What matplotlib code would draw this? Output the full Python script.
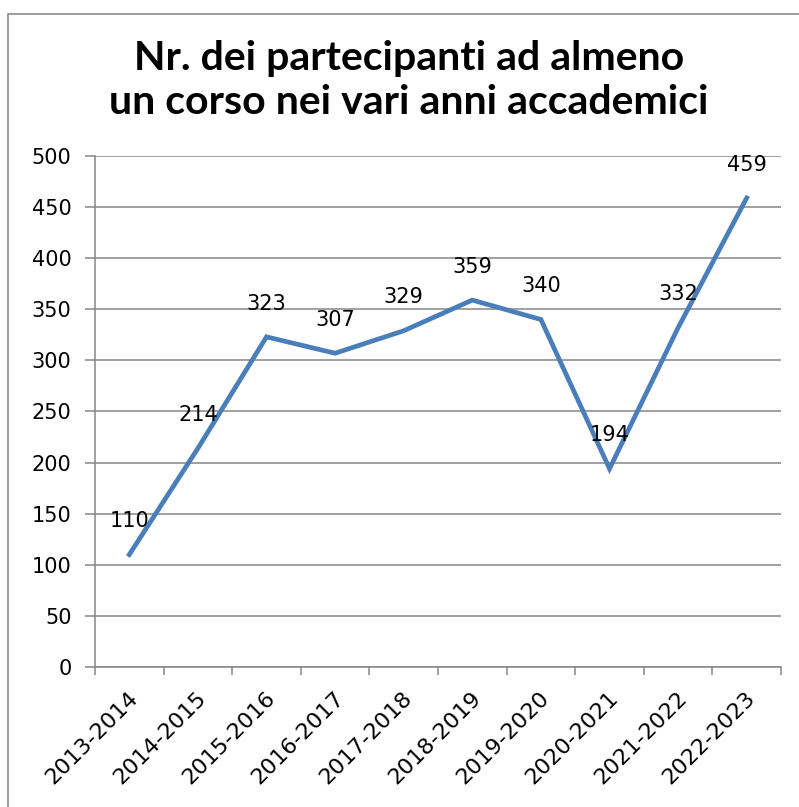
import numpy as np
import matplotlib
matplotlib.use("Agg")
import matplotlib.pyplot as plt
from matplotlib.patches import Rectangle
from matplotlib.transforms import ScaledTranslation

anni = ["2013-2014", "2014-2015", "2015-2016", "2016-2017", "2017-2018",
        "2018-2019", "2019-2020", "2020-2021", "2021-2022", "2022-2023"]
partecipanti = [110, 214, 323, 307, 329, 359, 340, 194, 332, 459]
titolo = "Nr. dei partecipanti ad almeno\nun corso nei vari anni accademici"

grigio = "#868686"
blu = "#4A7EBB"

fig = plt.figure(figsize=(7.99, 8.07), dpi=100)
ax = fig.add_axes([0.1189, 0.1735, 0.9775 - 0.1189, 0.8067 - 0.1735])

x = np.arange(len(anni)) + 0.5
ax.plot(x, partecipanti, color=blu, lw=3.4, solid_joinstyle="miter", zorder=3)
for xi, v in zip(x, partecipanti):
    ax.annotate(str(v), (xi, v), xytext=(0, 24), textcoords="offset points",
                ha="center", va="center", fontsize=15, color="black", zorder=4)

ax.set_xlim(0, len(anni))
ax.set_ylim(0, 500)
ax.set_yticks(np.arange(0, 501, 50))
ax.yaxis.grid(True, color=grigio, lw=1.1)
ax.set_axisbelow(True)

ax.set_xticks(np.arange(len(anni) + 1))
ax.set_xticklabels([])
ax.set_xticks(x, minor=True)
ax.set_xticklabels(anni, minor=True, rotation=45, ha="right", va="center",
                   rotation_mode="anchor", fontsize=16)
ax.tick_params(axis="x", which="major", length=6, width=1.1, color=grigio, direction="out")
ax.tick_params(axis="x", which="minor", length=0, pad=20)
ax.tick_params(axis="y", length=7, width=1.1, color=grigio, labelsize=15, pad=10)
shift = ScaledTranslation(4 / 72, 0, fig.dpi_scale_trans)
for lab in ax.get_xticklabels(minor=True):
    lab.set_transform(lab.get_transform() + shift)

for s in ["top", "right"]:
    ax.spines[s].set_visible(False)
for s in ["left", "bottom"]:
    ax.spines[s].set_color(grigio)
    ax.spines[s].set_linewidth(1.1)

fig.text(0.512, 0.900, titolo, ha="center", va="center", fontsize=29.5,
         fontweight="bold", family="Lato", linespacing=1.22)

fig.patches.append(Rectangle((8 / 799, -0.05), 1.1, 1 - 14 / 807 + 0.05,
                             transform=fig.transFigure, fill=False,
                             edgecolor="#8c8c8c", lw=1.2))

fig.savefig("out.png", dpi=100)
